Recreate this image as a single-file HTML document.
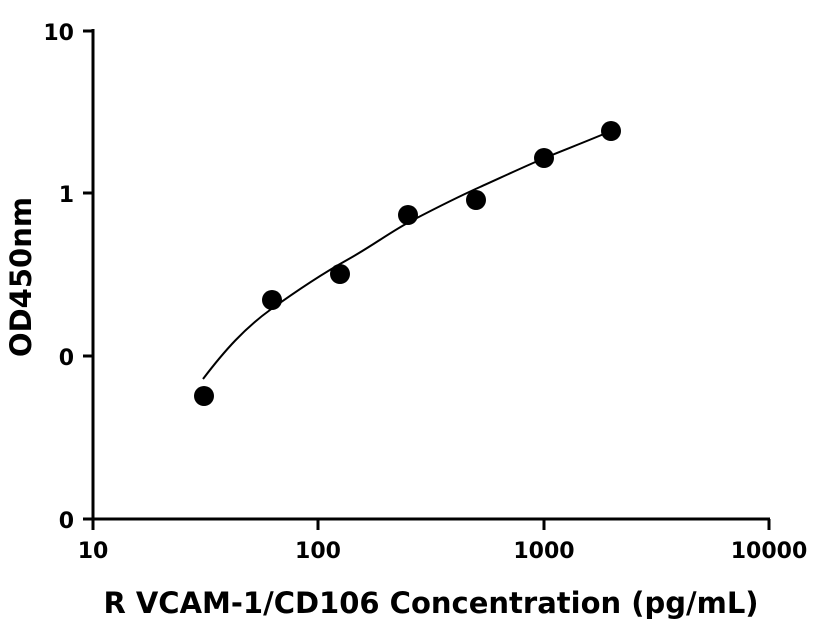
<!DOCTYPE html>
<html><head><style>body{margin:0;background:#fff}svg{display:block}</style></head><body>
<svg width="816" height="640" xmlns="http://www.w3.org/2000/svg" font-family="DejaVu Sans, Liberation Sans, sans-serif" font-weight="bold">
<g stroke="#000" stroke-width="3" fill="none">
<line x1="93" y1="29" x2="93" y2="520"/>
<line x1="92" y1="519" x2="770" y2="519"/>
<line x1="83" y1="31" x2="93" y2="31"/>
<line x1="83" y1="193" x2="93" y2="193"/>
<line x1="83" y1="356" x2="93" y2="356"/>
<line x1="83" y1="519" x2="93" y2="519"/>
<line x1="93" y1="519" x2="93" y2="530"/>
<line x1="318" y1="519" x2="318" y2="530"/>
<line x1="544" y1="519" x2="544" y2="530"/>
<line x1="769" y1="519" x2="769" y2="530"/>
</g>
<path d="M203,379 C225,350 245,328 270,310 S320,275 347,260 S390,232 413,220 S460,196 480,187 S530,164 547,157 S590,140 611,131" stroke="#000" stroke-width="2" fill="none"/>
<g fill="#000">
<circle cx="204" cy="396" r="10"/><circle cx="272" cy="300" r="10"/><circle cx="340" cy="274" r="10"/><circle cx="408" cy="215" r="10"/><circle cx="476" cy="200" r="10"/><circle cx="544" cy="158" r="10"/><circle cx="611" cy="131" r="10"/>
</g>
<g font-size="22" text-anchor="end">
<text x="74" y="40">10</text><text x="74" y="202">1</text><text x="74" y="365">0</text><text x="74" y="528">0</text>
</g>
<g font-size="22" text-anchor="middle">
<text x="93" y="558">10</text><text x="318" y="558">100</text><text x="544" y="558">1000</text><text x="769" y="558">10000</text>
</g>
<text x="431" y="613" font-size="29" text-anchor="middle">R VCAM-1/CD106 Concentration (pg/mL)</text>
<text transform="translate(31,277) rotate(-90)" font-size="29" text-anchor="middle">OD450nm</text>
</svg>
</body></html>
